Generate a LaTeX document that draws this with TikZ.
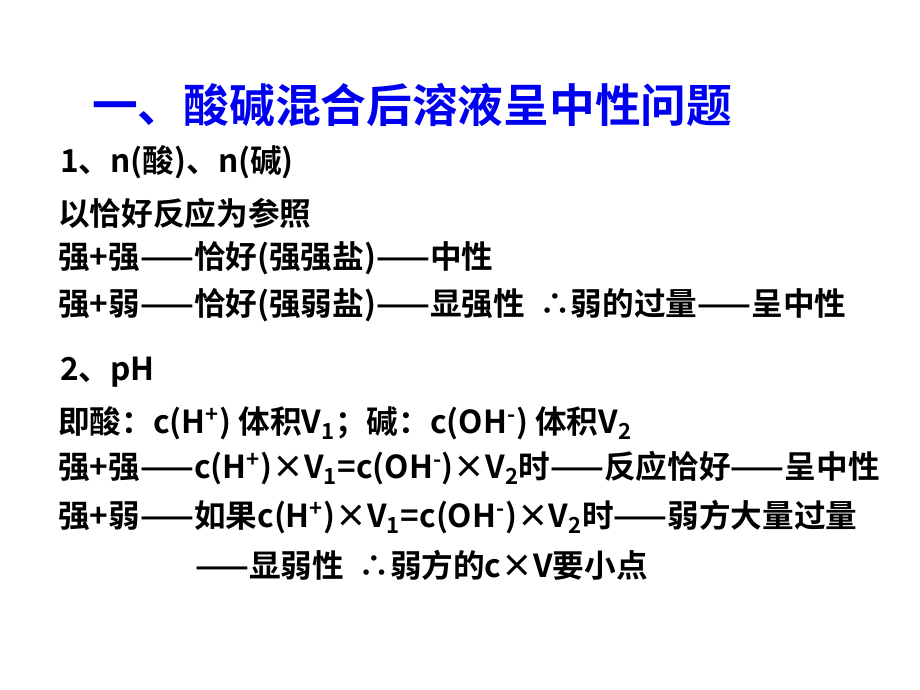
\documentclass[tikz,border=0pt]{standalone}
\usepackage{fontspec}
\setmainfont{Noto Sans CJK SC}[BoldFont={* Bold}]
\definecolor{titleblue}{RGB}{0,0,240}
\begin{document}
\begin{tikzpicture}[
    x=0.025cm, y=-0.025cm,
    % styles
    heading/.style={anchor=west, inner sep=0pt, font=\fontsize{32.5}{36}\selectfont\bfseries, text=titleblue},
    line/.style={anchor=west, inner sep=0pt, font=\fontsize{22.5}{26}\selectfont\bfseries}
    ]
    \useasboundingbox (0,0) rectangle (920,690);

    % title
    \node[heading] (title) at (92,105) {一、酸碱混合后溶液呈中性问题};

    % part 1
    \node[line] (p1) at (60,162) {1、n(酸)、n(碱)};
    \node[line] (ref) at (58,213) {以恰好反应为参照};
    \node[line] (ss1) at (58,258) {强+强——恰好(强强盐)——中性};
    \node[line] (sw1) at (58,305) {强+弱——恰好(强弱盐)——显强性 \ ∴弱的过量——呈中性};

    % part 2
    \node[line] (p2) at (60,372) {2、pH};
    \node[line] (def) at (58,423) {即酸：c(H\textsuperscript{+}) 体积V\textsubscript{1}；碱：c(OH\textsuperscript{-}) 体积V\textsubscript{2}};
    \node[line] (ss2) at (58,468) {强+强——c(H\textsuperscript{+})×V\textsubscript{1}=c(OH\textsuperscript{-})×V\textsubscript{2}时——反应恰好——呈中性};
    \node[line] (sw2) at (58,517) {强+弱——如果c(H\textsuperscript{+})×V\textsubscript{1}=c(OH\textsuperscript{-})×V\textsubscript{2}时——弱方大量过量};
    \node[line] (sw3) at (195,565) {——显弱性 \ ∴弱方的c×V要小点};
\end{tikzpicture}
\end{document}
